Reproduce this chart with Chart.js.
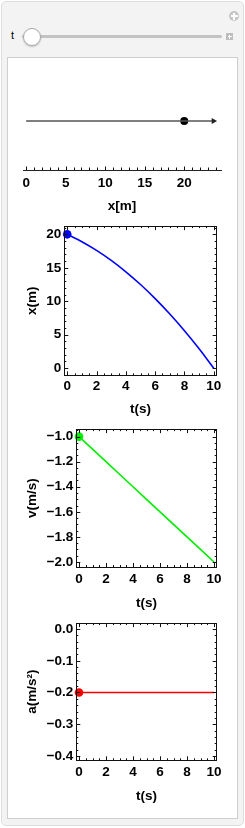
<!DOCTYPE html>
<html>
<head>
  <meta charset="UTF-8">
  <title>Motion along a line</title>
  <script src="https://cdn.jsdelivr.net/npm/chart.js"></script>
  <style>
    html, body {
      margin: 0;
      padding: 0;
      background: #fff;
    }
    body {
      width: 245px;
      height: 828px;
      position: relative;
      overflow: hidden;
      font-family: "Liberation Sans", Arial, sans-serif;
    }
    #panel {
      position: absolute;
      left: 1px;
      top: 1px;
      width: 241px;
      height: 823px;
      background: #f3f3f3;
      border: 1px solid #dedede;
      border-radius: 5px;
    }
    #inner {
      position: absolute;
      left: 7px;
      top: 57px;
      width: 229px;
      height: 760px;
      background: #fff;
      border: 1px solid #cfcfcf;
    }
    /* slider bits */
    #tlabel {
      position: absolute;
      left: 11px;
      top: 29px;
      font-size: 11px;
      color: #000;
    }
    #track {
      position: absolute;
      left: 22px;
      top: 35px;
      width: 200px;
      height: 3px;
      background: #c3c3c3;
      border-radius: 2px;
    }
    #knob {
      position: absolute;
      left: 23px;
      top: 28px;
      width: 16px;
      height: 16px;
      border-radius: 50%;
      background: #fff;
      border: 1px solid #aaa;
      box-shadow: 0 1px 2px rgba(0,0,0,0.2);
    }
    #plusbox {
      position: absolute;
      left: 226px;
      top: 33px;
      width: 7px;
      height: 7px;
      background: #bdbdbd;
    }
    #pluscircle {
      position: absolute;
      left: 229px;
      top: 11px;
      width: 10px;
      height: 10px;
      border-radius: 50%;
      background: #c6c6c6;
    }
    .plus::before, .plus::after {
      content: "";
      position: absolute;
      background: #fff;
    }
    .plus::before { left: 1.5px; right: 1.5px; top: 50%; height: 1.4px; margin-top: -0.7px; }
    .plus::after { top: 1.5px; bottom: 1.5px; left: 50%; width: 1.4px; margin-left: -0.7px; }
    canvas {
      position: absolute;
      left: 0;
    }
  </style>
</head>
<body>
  <div id="panel"></div>
  <div id="pluscircle" class="plus"></div>
  <div id="tlabel">t</div>
  <div id="track"></div>
  <div id="knob"></div>
  <div id="plusbox" class="plus"></div>
  <div id="inner"></div>

  <canvas id="lineChart" width="245" height="158" style="top:60px"></canvas>
  <canvas id="posChart" width="245" height="203" style="top:215px"></canvas>
  <canvas id="velChart" width="245" height="194" style="top:418px"></canvas>
  <canvas id="accChart" width="245" height="203" style="top:612px"></canvas>

  <script>
    // data
    const tValues = [0, 1, 2, 3, 4, 5, 6, 7, 8, 9, 10];
    const xValues = [20, 18.9, 17.6, 16.1, 14.4, 12.5, 10.4, 8.1, 5.6, 2.9, 0];
    const vValues = [-1.0, -1.1, -1.2, -1.3, -1.4, -1.5, -1.6, -1.7, -1.8, -1.9, -2.0];
    const aValues = [-0.2, -0.2, -0.2, -0.2, -0.2, -0.2, -0.2, -0.2, -0.2, -0.2, -0.2];

    const tNow = 0;          // slider value
    const arrowStart = 0;
    const arrowEnd = 23.7;

    // tick labels
    const lineTicks = [0, 5, 10, 15, 20];
    const tTicks = [0, 2, 4, 6, 8, 10];
    const xTicks = [0, 5, 10, 15, 20];
    const vTicks = [-2.0, -1.8, -1.6, -1.4, -1.2, -1.0];
    const aTicks = [-0.4, -0.3, -0.2, -0.1, 0.0];

    const nowIdx = tValues.indexOf(tNow);
    const pts = ys => tValues.map((t, i) => ({ x: t, y: ys[i] }));
    const fmt1 = v => (v < -1e-9 ? "\u2212" : "") + Math.abs(v).toFixed(1);

    const FONT = { family: "'Liberation Sans', Arial, sans-serif", weight: "bold", size: 13.5 };

    // inward frame ticks (major + minor) drawn through the chart scales
    const frameTicks = {
      id: "frameTicks",
      afterDraw(chart, args, o) {
        if (!o || !o.on) return;
        const { ctx, chartArea: a, scales } = chart;
        ctx.save();
        ctx.strokeStyle = "#111";
        ctx.lineWidth = 1;
        const minors = (s, step, major) => {
          const out = [];
          const n0 = Math.ceil(s.min / step - 1e-9), n1 = Math.floor(s.max / step + 1e-9);
          for (let n = n0; n <= n1; n++) {
            const v = +(n * step).toFixed(6);
            if (!major.some(m => Math.abs(m - v) < 1e-6)) out.push(v);
          }
          return out;
        };
        const drawX = (vals, len) => {
          vals.forEach(v => {
            const px = Math.round(scales.x.getPixelForValue(v)) + 0.5;
            ctx.beginPath();
            ctx.moveTo(px, a.bottom); ctx.lineTo(px, a.bottom - len);
            if (o.all) { ctx.moveTo(px, a.top); ctx.lineTo(px, a.top + len); }
            ctx.stroke();
          });
        };
        const drawY = (vals, len) => {
          vals.forEach(v => {
            const py = Math.round(scales.y.getPixelForValue(v)) + 0.5;
            ctx.beginPath();
            ctx.moveTo(a.left, py); ctx.lineTo(a.left + len, py);
            ctx.moveTo(a.right, py); ctx.lineTo(a.right - len, py);
            ctx.stroke();
          });
        };
        drawX(o.xMajor, o.majorLen);
        drawX(minors(scales.x, o.xMinor, o.xMajor), o.minorLen);
        if (o.all) {
          drawY(o.yMajor, o.majorLen);
          drawY(minors(scales.y, o.yMinor, o.yMajor), o.minorLen);
          ctx.strokeRect(Math.round(a.left) + 0.5, Math.round(a.top) + 0.5,
                         Math.round(a.width), Math.round(a.height));
        }
        ctx.restore();
      }
    };
    Chart.register(frameTicks);

    const fixTicks = arr => scale => { scale.ticks = arr.map(v => ({ value: v })); };

    // number line with the moving particle
    new Chart(document.getElementById("lineChart"), {
      type: "line",
      data: {
        datasets: [
          {
            data: [{ x: arrowStart, y: 0 }, { x: arrowEnd, y: 0 }],
            borderColor: "#555",
            borderWidth: 1.6,
            pointRadius: [0, 3.6],
            pointStyle: "triangle",
            pointRotation: 90,
            pointBackgroundColor: "#222",
            pointBorderColor: "#222",
            pointBorderWidth: 0
          },
          {
            data: [{ x: xValues[nowIdx], y: 0 }],
            showLine: false,
            pointRadius: 4,
            pointBackgroundColor: "#000",
            pointBorderColor: "#000",
            pointBorderWidth: 0
          }
        ]
      },
      options: {
        responsive: false,
        animation: false,
        layout: { padding: { top: 12, left: 23, right: 24, bottom: 3.9 } },
        plugins: {
          legend: { display: false },
          tooltip: { enabled: false },
          frameTicks: { on: true, all: false, xMajor: lineTicks, xMinor: 1, majorLen: 3.5, minorLen: 2.5 }
        },
        scales: {
          x: {
            type: "linear",
            min: -0.4,
            max: 24.65,
            afterBuildTicks: fixTicks(lineTicks),
            afterFit: s => { s.height = 44.1; },
            grid: { display: true, drawOnChartArea: false, drawTicks: false },
            border: { display: true, color: "#222", width: 1 },
            ticks: { color: "#000", font: FONT, padding: 4.9, maxRotation: 0 },
            title: { display: true, text: "x[m]", color: "#000", font: FONT, padding: 0 }
          },
          y: { display: false, min: -1, max: 1 }
        }
      }
    });

    function motionChart(id, ys, color, yTicks, yMin, yMax, yMinor, yLabel, fmt, box) {
      return new Chart(document.getElementById(id), {
        type: "line",
        data: {
          datasets: [
            {
              data: pts(ys),
              borderColor: color,
              borderWidth: 1.6,
              pointRadius: 0,
              cubicInterpolationMode: "monotone"
            },
            {
              data: [{ x: tNow, y: ys[nowIdx] }],
              showLine: false,
              pointRadius: 4.3,
              pointBackgroundColor: color,
              pointBorderWidth: 0,
              clip: false
            }
          ]
        },
        options: {
          responsive: false,
          animation: false,
          layout: { padding: { top: box.top, left: 23.9, right: box.right, bottom: box.bottom } },
          plugins: {
            legend: { display: false },
            tooltip: { enabled: false },
            frameTicks: {
              on: true, all: true,
              xMajor: tTicks, xMinor: 0.5,
              yMajor: yTicks, yMinor: yMinor,
              majorLen: 4, minorLen: 2
            }
          },
          scales: {
            x: {
              type: "linear",
              min: -0.2,
              max: 10.2,
              afterBuildTicks: fixTicks(tTicks),
              afterFit: s => { s.height = box.xh; },
              grid: { display: false, drawTicks: false },
              border: { display: false },
              ticks: { color: "#000", font: FONT, padding: box.xpad, maxRotation: 0 },
              title: { display: true, text: "t(s)", color: "#000", font: FONT, padding: 0 }
            },
            y: {
              type: "linear",
              min: yMin,
              max: yMax,
              afterBuildTicks: fixTicks(yTicks),
              afterFit: s => { s.width = box.yw; },
              grid: { display: false, drawTicks: false },
              border: { display: false },
              ticks: { color: "#000", font: FONT, padding: 3, callback: fmt },
              title: { display: true, text: yLabel, color: "#000", font: FONT, padding: 0 }
            }
          }
        }
      });
    }

    motionChart("posChart", xValues, "#0000ff", xTicks, -1.08, 21.23, 1, "x(m)", v => String(v),
      { top: 8.3, right: 28.3, bottom: 0.9, xh: 41.7, xpad: 3.2, yw: 40.4 });

    motionChart("velChart", vValues, "#00ee00", vTicks, -2.04, -0.94, 0.05, "v(m/s)", fmt1,
      { top: 10.3, right: 28.3, bottom: 0.6, xh: 44.4, xpad: 3.9, yw: 52.4 });

    motionChart("accChart", aValues, "#ff0000", aTicks, -0.414, 0.019, 0.02, "a(m/s\u00b2)", fmt1,
      { top: 9.7, right: 28.3, bottom: 10.6, xh: 44.1, xpad: 3.6, yw: 52.4 });
  </script>
</body>
</html>
